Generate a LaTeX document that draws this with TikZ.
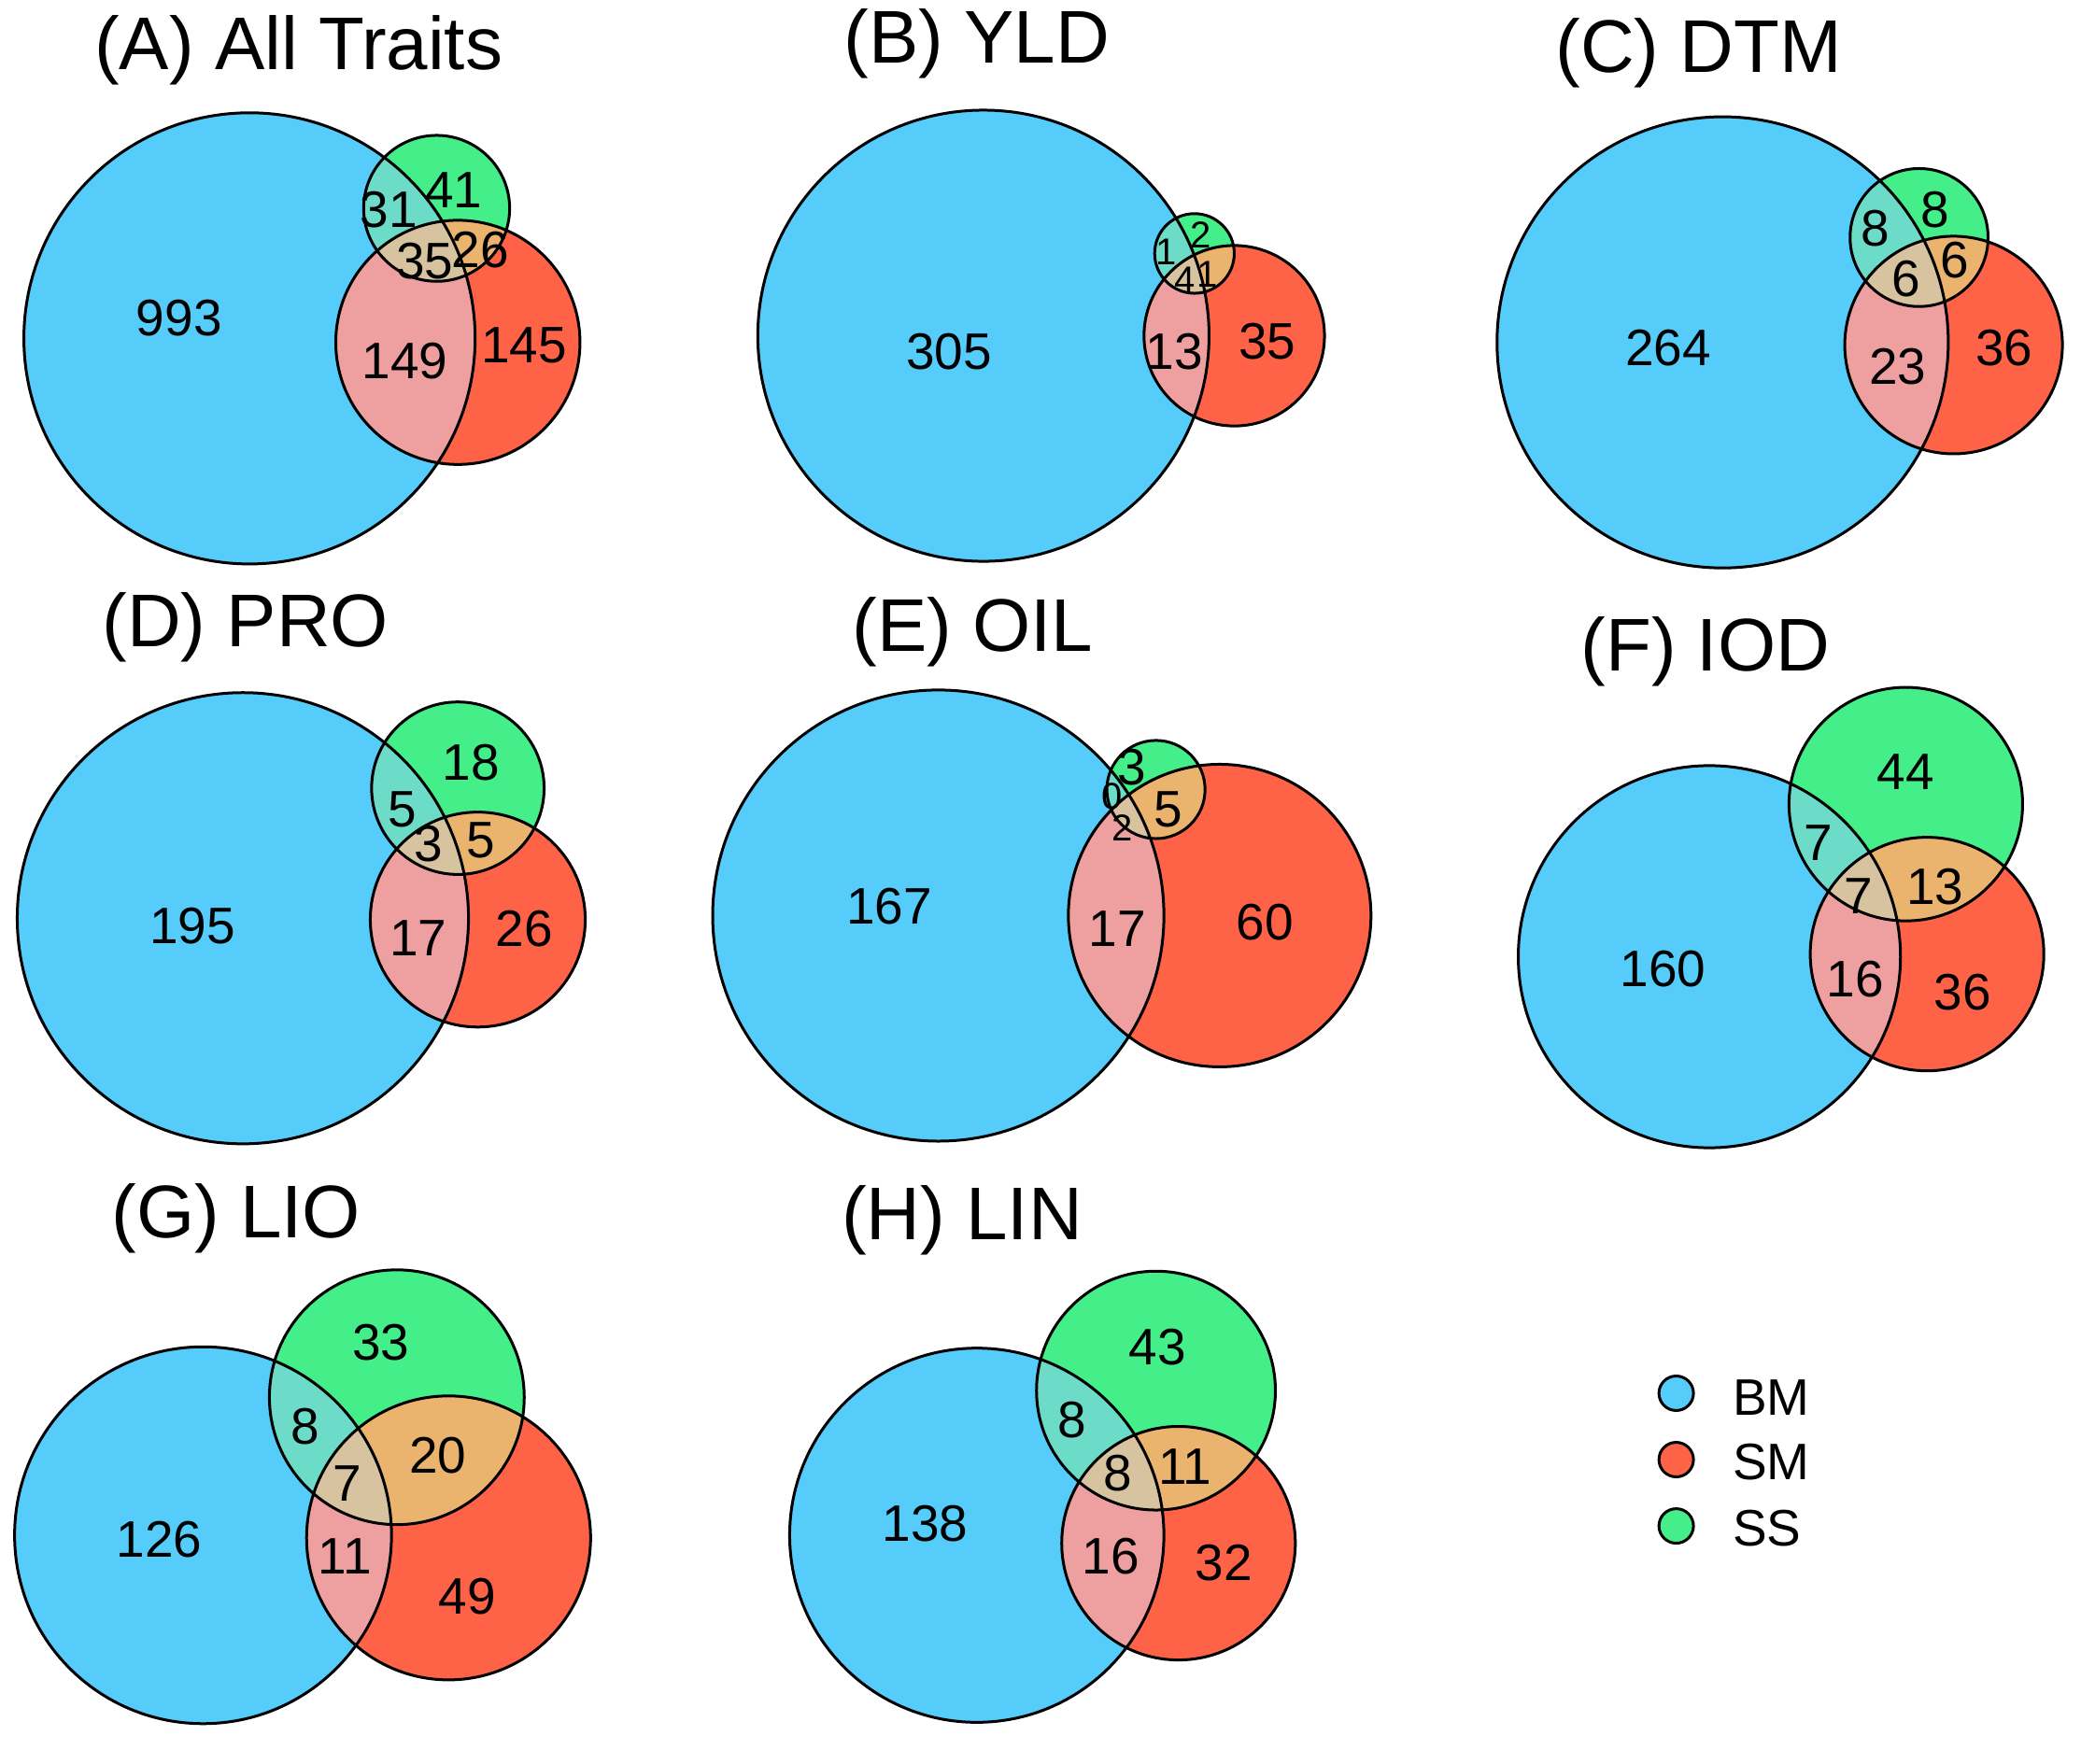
\documentclass[tikz,border=0pt]{standalone}
\usepackage{fontspec}
\setmainfont{Liberation Sans}
\usepackage{tikz}

\definecolor{bmcol}{RGB}{86,204,250}
\definecolor{smcol}{RGB}{255,99,71}
\definecolor{sscol}{RGB}{68,238,136}
\definecolor{bmsscol}{RGB}{108,220,200}
\definecolor{bmsmcol}{RGB}{238,160,160}
\definecolor{smsscol}{RGB}{235,180,110}
\definecolor{allcol}{RGB}{215,195,160}

% three circles: blue centre/radius, red centre/radius, green centre/radius
\newcommand{\threevenn}[6]{
  \fill[bmcol] #1 circle (#2);
  \fill[smcol] #3 circle (#4);
  \fill[sscol] #5 circle (#6);
  \begin{scope}
    \clip #3 circle (#4);
    \fill[smsscol] #5 circle (#6);
  \end{scope}
  \begin{scope}
    \clip #1 circle (#2);
    \fill[bmsmcol] #3 circle (#4);
    \fill[bmsscol] #5 circle (#6);
    \clip #3 circle (#4);
    \fill[allcol] #5 circle (#6);
  \end{scope}
  \draw[vennline] #1 circle (#2) #3 circle (#4) #5 circle (#6);
}

\begin{document}
\begin{tikzpicture}[x=0.01cm, y=-0.01cm,
    vennline/.style={line width=0.6pt, draw=black},
    title/.style={font=\fontsize{16}{18}\selectfont, inner sep=0pt},
    num/.style={font=\fontsize{11}{13}\selectfont, inner sep=0pt},
    small/.style={font=\fontsize{8}{9}\selectfont, inner sep=0pt},
    legdot/.style={circle, draw=black, line width=0.6pt, minimum size=0.26cm, inner sep=0pt},
    legtext/.style={font=\fontsize{11}{13}\selectfont, anchor=west, inner sep=0pt}]

  \useasboundingbox (0,0) rectangle (1568,1329);

  %%%%%%%%
  % (A) all traits
  %%%%%%%%
  \threevenn{(188,255)}{170}{(345,258)}{92}{(329,157)}{55}
  \node[title] (atitle) at (225,38) {(A) All Traits};
  \node[num] (aBM) at (135,240) {993};
  \node[num] (aBMSS) at (293,158) {31};
  \node[num] (aSS) at (342,143) {41};
  \node[num] (aALL) at (320,197) {35};
  \node[num] (aSMSS) at (362,188) {26};
  \node[num] (aBMSM) at (305,272) {149};
  \node[num] (aSM) at (395,260) {145};

  %%%%%%%%
  % (B) YLD
  %%%%%%%%
  \threevenn{(741,253)}{170}{(930,253)}{68}{(900,191)}{30}
  \node[title] (btitle) at (736,33) {(B) YLD};
  \node[num] (bBM) at (715,265) {305};
  \node[small] (bBMSS) at (879,190) {1};
  \node[small] (bSS) at (905,177) {2};
  \node[small] (bALL) at (893,211) {4};
  \node[small] (bSMSS) at (910,207) {1};
  \node[num] (bBMSM) at (885,265) {13};
  \node[num] (bSM) at (955,257) {35};

  %%%%%%%%
  % (C) DTM
  %%%%%%%%
  \threevenn{(1298,258)}{170}{(1472,260)}{82}{(1446,179)}{52}
  \node[title] (ctitle) at (1280,40) {(C) DTM};
  \node[num] (cBM) at (1257,262) {264};
  \node[num] (cBMSS) at (1413,172) {8};
  \node[num] (cSS) at (1458,158) {8};
  \node[num] (cALL) at (1436,210) {6};
  \node[num] (cSMSS) at (1473,196) {6};
  \node[num] (cBMSM) at (1430,276) {23};
  \node[num] (cSM) at (1510,262) {36};

  %%%%%%%%
  % (D) PRO
  %%%%%%%%
  \threevenn{(183,692)}{170}{(360,693)}{81}{(345,594)}{65}
  \node[title] (dtitle) at (185,473) {(D) PRO};
  \node[num] (dBM) at (145,698) {195};
  \node[num] (dBMSS) at (303,610) {5};
  \node[num] (dSS) at (355,575) {18};
  \node[num] (dALL) at (323,636) {3};
  \node[num] (dSMSS) at (362,633) {5};
  \node[num] (dBMSM) at (315,707) {17};
  \node[num] (dSM) at (395,700) {26};

  %%%%%%%%
  % (E) OIL
  %%%%%%%%
  \threevenn{(707,690)}{170}{(919,690)}{114}{(871,595)}{37}
  \node[title] (etitle) at (733,476) {(E) OIL};
  \node[num] (eBM) at (670,683) {167};
  \node[small] (eBMSS) at (838,600) {0};
  \node[num] (eSS) at (853,578) {3};
  \node[small] (eALL) at (846,624) {2};
  \node[num] (eSMSS) at (880,610) {5};
  \node[num] (eBMSM) at (842,700) {17};
  \node[num] (eSM) at (953,695) {60};

  %%%%%%%%
  % (F) IOD
  %%%%%%%%
  \threevenn{(1288,721)}{144}{(1452,719)}{88}{(1436,606)}{88}
  \node[title] (ftitle) at (1285,491) {(F) IOD};
  \node[num] (fBM) at (1253,730) {160};
  \node[num] (fBMSS) at (1370,635) {7};
  \node[num] (fSS) at (1436,582) {44};
  \node[num] (fALL) at (1400,675) {7};
  \node[num] (fSMSS) at (1458,668) {13};
  \node[num] (fBMSM) at (1398,738) {16};
  \node[num] (fSM) at (1479,748) {36};

  %%%%%%%%
  % (G) LIO
  %%%%%%%%
  \threevenn{(153,1157)}{142}{(338,1159)}{107}{(299,1053)}{96}
  \node[title] (gtitle) at (178,918) {(G) LIO};
  \node[num] (gBM) at (120,1160) {126};
  \node[num] (gBMSS) at (230,1075) {8};
  \node[num] (gSS) at (287,1012) {33};
  \node[num] (gALL) at (262,1118) {7};
  \node[num] (gSMSS) at (330,1097) {20};
  \node[num] (gBMSM) at (260,1173) {11};
  \node[num] (gSM) at (352,1203) {49};

  %%%%%%%%
  % (H) LIN
  %%%%%%%%
  \threevenn{(736,1157)}{141}{(888,1163)}{88}{(871,1048)}{90}
  \node[title] (htitle) at (725,920) {(H) LIN};
  \node[num] (hBM) at (697,1148) {138};
  \node[num] (hBMSS) at (808,1070) {8};
  \node[num] (hSS) at (872,1015) {43};
  \node[num] (hALL) at (842,1110) {8};
  \node[num] (hSMSS) at (893,1105) {11};
  \node[num] (hBMSM) at (837,1173) {16};
  \node[num] (hSM) at (922,1178) {32};

  %%%%%%%%
  % legend
  %%%%%%%%
  \node[legdot, fill=bmcol] (bmdot) at (1263,1050) {};
  \node[legdot, fill=smcol] (smdot) at (1263,1100) {};
  \node[legdot, fill=sscol] (ssdot) at (1263,1150) {};
  \node[legtext] (bmlab) at (1305,1053) {BM};
  \node[legtext] (smlab) at (1305,1102) {SM};
  \node[legtext] (sslab) at (1305,1152) {SS};
\end{tikzpicture}
\end{document}
